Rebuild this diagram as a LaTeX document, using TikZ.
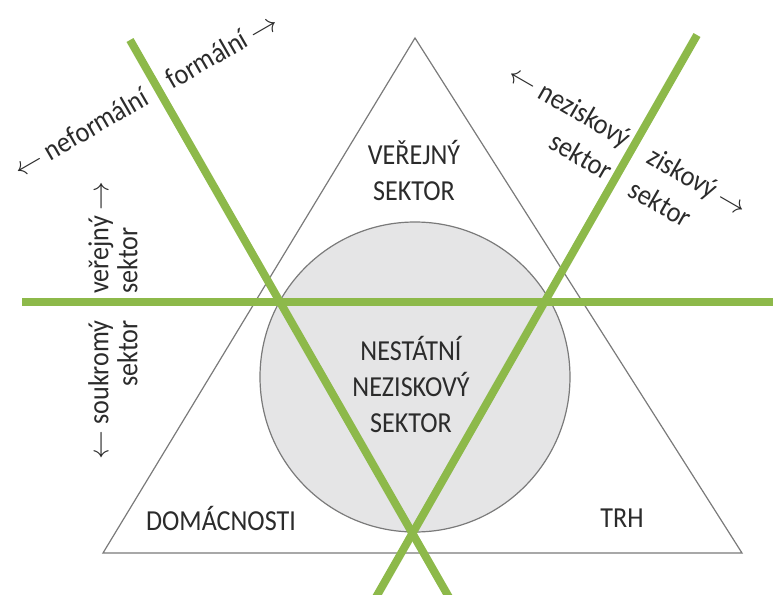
\documentclass[tikz,border=0pt]{standalone}
\usepackage{fontspec}
\setmainfont{Carlito}[FakeStretch=0.9]
\definecolor{sectorgreen}{HTML}{8DB94A}
\definecolor{ngofill}{HTML}{E5E5E6}
\definecolor{edgegray}{HTML}{7A7A7A}
\definecolor{labelgray}{HTML}{2B2B2B}
\tikzset{
  sectorlabel/.style={font=\fontsize{14.5}{18}\selectfont, text=labelgray, align=center, inner sep=0pt},
  axislabel/.style={font=\fontsize{14.5}{19}\selectfont, text=labelgray, inner sep=0pt},
  sidelabel/.style={font=\fontsize{14.5}{14.5}\selectfont, text=labelgray, inner sep=0pt},
  divider/.style={draw=sectorgreen, line width=4pt},
}

\begin{document}
\begin{tikzpicture}[x=0.5pt, y=-0.5pt]
  \useasboundingbox (0,0) rectangle (773,595);
  \clip (0,0) rectangle (773,595);

  % ---------- Triangle and circle ----------
  \coordinate (apex) at (415,38);
  \coordinate (baseL) at (103,553);
  \coordinate (baseR) at (742,553);
  \draw[edgegray, line width=0.6pt] (apex) -- (baseL) -- (baseR) -- cycle;
  \draw[edgegray, fill=ngofill, line width=0.6pt] (415,377) circle [radius=155];

  % ---------- Dividing lines ----------
  \coordinate (leftTop) at (130,40);
  \coordinate (leftEnd) at (462,620);
  \coordinate (rightTop) at (697,35);
  \coordinate (rightEnd) at (363,620);
  \coordinate (horizL) at (22,302);
  \coordinate (horizR) at (780,302);
  \draw[divider] (horizL) -- (horizR);
  \draw[divider] (leftTop) -- (leftEnd);
  \draw[divider] (rightTop) -- (rightEnd);

  % ---------- Sector labels ----------
  \node[sectorlabel] (public) at (414,170) {VEŘEJNÝ\\SEKTOR};
  \node[sectorlabel] (ngo) at (411,384) {NESTÁTNÍ\\NEZISKOVÝ\\SEKTOR};
  \node[sectorlabel] (households) at (221,518) {DOMÁCNOSTI};
  \node[sectorlabel] (market) at (622,518) {TRH};

  % ---------- Axis labels ----------
  \node[axislabel, rotate=30, anchor=mid east] (informal) at (149,99) {$\leftarrow$ neformální};
  \node[axislabel, rotate=30, anchor=mid west] (formal) at (170,86) {formální $\rightarrow$};
  \node[axislabel, rotate=-30, anchor=east, align=right] (nonprofit) at (620,156) {$\leftarrow$ neziskový\\sektor};
  \node[axislabel, rotate=-30, anchor=west, align=left] (profit) at (641,170) {ziskový $\rightarrow$\\sektor};
  \node[sidelabel, rotate=90, anchor=west, align=left] (publicaxis) at (113,294) {veřejný $\rightarrow$\\sektor};
  \node[sidelabel, rotate=90, anchor=east, align=right] (privateaxis) at (113,320) {$\leftarrow$ soukromý\\sektor};
\end{tikzpicture}
\end{document}
